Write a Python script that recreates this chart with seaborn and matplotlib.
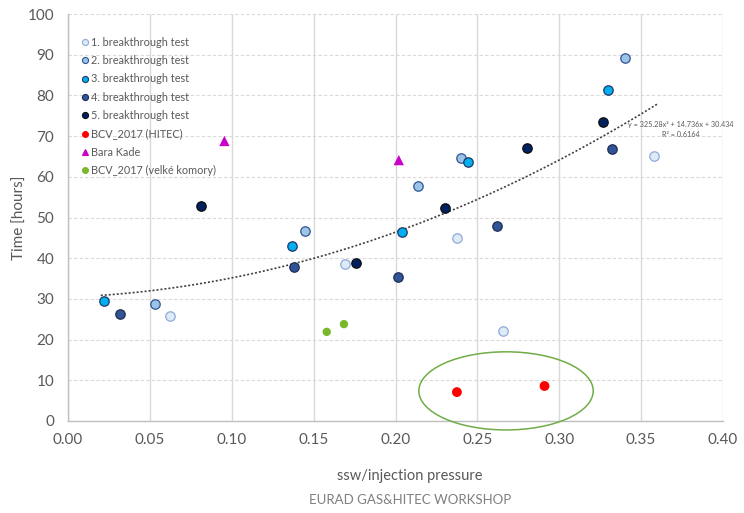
import numpy as np
import pandas as pd
import matplotlib
matplotlib.use("Agg")
import matplotlib.pyplot as plt
import seaborn as sns
from matplotlib.patches import Ellipse
from matplotlib.lines import Line2D

# ---------------- data ----------------
s1_x = [0.062, 0.169, 0.2375, 0.2655, 0.358]
s1_y = [25.9, 38.6, 45.0, 22.0, 65.1]
s2_x = [0.053, 0.145, 0.214, 0.240, 0.340]
s2_y = [28.8, 46.8, 57.8, 64.7, 89.2]
s3_x = [0.022, 0.137, 0.204, 0.244, 0.330]
s3_y = [29.4, 43.0, 46.5, 63.7, 81.4]
s4_x = [0.032, 0.138, 0.2015, 0.262, 0.332]
s4_y = [26.3, 37.9, 35.4, 47.8, 66.8]
s5_x = [0.081, 0.176, 0.2305, 0.280, 0.327]
s5_y = [52.8, 38.9, 52.3, 67.0, 73.5]
hitec_x = [0.2375, 0.291]
hitec_y = [7.1, 8.6]
bara_x = [0.0955, 0.202]
bara_y = [68.8, 64.1]
velke_x = [0.158, 0.1685]
velke_y = [21.9, 23.8]

series_names = ["1. breakthrough test", "2. breakthrough test", "3. breakthrough test",
                "4. breakthrough test", "5. breakthrough test", "BCV_2017 (HITEC)",
                "Bara Kade", "BCV_2017 (velké komory)"]
trend_coef = [325.28, 14.736, 30.434]
trend_range = [0.02, 0.36]
trend_label = "y = 325.28x² + 14.736x + 30.434\nR² = 0.6164"
x_ticks = [0.00, 0.05, 0.10, 0.15, 0.20, 0.25, 0.30, 0.35, 0.40]
y_ticks = [0, 10, 20, 30, 40, 50, 60, 70, 80, 90, 100]

# ---------------- style ----------------
sns.set_theme(style="white")
plt.rcParams['font.family'] = ['Lato', 'DejaVu Sans']
txt_col = "#595959"

fig = plt.figure(figsize=(7.44, 5.13), dpi=100)
ax = fig.add_axes([68/744, 1 - 421/513, 655/744, 407/513])

styles = [
    dict(color="#DEEBF7", edgecolor="#8FAADC", marker="o", s=46, linewidth=0.9),
    dict(color="#9DC3E6", edgecolor="#2F5597", marker="o", s=46, linewidth=0.9),
    dict(color="#00B0F0", edgecolor="#1F3864", marker="o", s=46, linewidth=0.9),
    dict(color="#2F5597", edgecolor="#1F2D50", marker="o", s=46, linewidth=0.9),
    dict(color="#002060", edgecolor="#0D0D0D", marker="o", s=46, linewidth=0.9),
    dict(color="#FF0000", edgecolor="none", marker="o", s=50, linewidth=0),
    dict(color="#C800C8", edgecolor="none", marker="^", s=55, linewidth=0),
    dict(color="#78B82A", edgecolor="none", marker="o", s=36, linewidth=0),
]
xs = [s1_x, s2_x, s3_x, s4_x, s5_x, hitec_x, bara_x, velke_x]
ys = [s1_y, s2_y, s3_y, s4_y, s5_y, hitec_y, bara_y, velke_y]

# trendline (polynomial from chart label)
tx = np.linspace(trend_range[0], trend_range[1], 200)
ty = np.polyval(trend_coef, tx)
sns.lineplot(x=tx, y=ty, ax=ax, color="#404040", linestyle=(0, (1.2, 1.2)), linewidth=1.2, zorder=3)

for name, x, y, st in zip(series_names, xs, ys, styles):
    df = pd.DataFrame({"x": x, "y": y})
    sns.scatterplot(data=df, x="x", y="y", ax=ax, zorder=4, legend=False, **st)

# ellipse
ell = Ellipse((0.2675, 7.4), 0.1065, 19.2, fill=False, edgecolor="#70AD47",
              linewidth=1.1, clip_on=False, zorder=5)
ax.add_patch(ell)

ax.set_xlim(0, 0.40)
ax.set_ylim(0, 100)
ax.set_xticks(x_ticks)
ax.set_yticks(y_ticks)
ax.set_xticklabels([f"{v:.2f}" for v in x_ticks])
ax.tick_params(axis="both", colors=txt_col, labelsize=11, length=0, pad=9)
ax.tick_params(axis="y", pad=10)

ax.grid(axis="x", color="#D9D9D9", linewidth=1.0, linestyle="-")
ax.grid(axis="y", color="#D9D9D9", linewidth=0.8, linestyle=(0, (3, 2)))
ax.set_axisbelow(True)
for sp in ["top", "right"]:
    ax.spines[sp].set_visible(False)
for sp in ["left", "bottom"]:
    ax.spines[sp].set_color("#BFBFBF")
    ax.spines[sp].set_linewidth(1.0)

ax.set_xlabel("ssw/injection pressure", fontsize=10.5, color=txt_col)
ax.xaxis.set_label_coords((410 - 68) / 655, -0.118)
ax.set_ylabel("Time [hours]", fontsize=11, color=txt_col)
ax.yaxis.set_label_coords(-0.063, 0.5)

ax.text(0.3418, 73.6, trend_label, fontsize=5.2, color=txt_col,
        ha="left", va="top", linespacing=1.45, multialignment="center", clip_on=False)

fig.text(410 / 744, 1 - 500 / 513, "EURAD GAS&HITEC WORKSHOP", fontsize=9.5,
         color="#7F7F7F", ha="center", va="center")

handles = []
for name, st in zip(series_names, styles):
    ms = 4.4 if st["linewidth"] > 0 else 4.2
    handles.append(Line2D([], [], linestyle="none", marker=st["marker"], markersize=ms,
                          markerfacecolor=st["color"],
                          markeredgecolor=st["edgecolor"] if st["edgecolor"] != "none" else st["color"],
                          markeredgewidth=0.8, label=name))
leg = ax.legend(handles=handles, loc="upper left", bbox_to_anchor=(0.006, 0.963), frameon=False,
                fontsize=7.8, labelcolor=txt_col, handletextpad=0.1, handlelength=1.0,
                labelspacing=0.68, borderaxespad=0.3)

fig.savefig("out.png", dpi=100)
